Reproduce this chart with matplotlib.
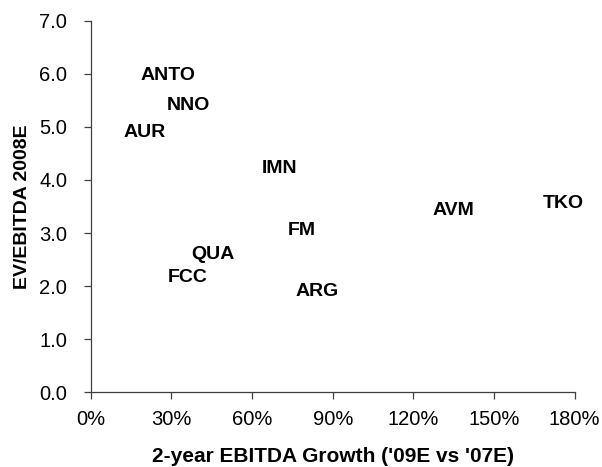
import matplotlib.pyplot as plt
from matplotlib.ticker import PercentFormatter

plt.rcParams['font.family'] = ['Liberation Sans', 'DejaVu Sans']

# label positions: EBITDA growth (fraction) vs EV/EBITDA
names = ['ANTO', 'NNO', 'AUR', 'IMN', 'FM', 'ARG', 'AVM', 'TKO', 'QUA', 'FCC']
growth = [0.286, 0.363, 0.201, 0.704, 0.783, 0.842, 1.348, 1.757, 0.456, 0.361]
ev_ebitda = [5.96, 5.41, 4.89, 4.22, 3.04, 1.89, 3.43, 3.56, 2.60, 2.17]

x_ticks = [0, 0.3, 0.6, 0.9, 1.2, 1.5, 1.8]
y_ticks = [0, 1, 2, 3, 4, 5, 6, 7]

fig = plt.figure(figsize=(6.02, 4.67), dpi=100)
ax = fig.add_axes([0.1507, 0.16, 0.804, 0.7957])

for name, gx, ev in zip(names, growth, ev_ebitda):
    ax.text(gx, ev, name, ha='center', va='center', fontsize=14,
            fontweight='bold', clip_on=False)

ax.set_xlim(0, 1.8)
ax.set_ylim(0, 7)
ax.set_xticks(x_ticks)
ax.set_yticks(y_ticks)
ax.xaxis.set_major_formatter(PercentFormatter(1.0, decimals=0))
ax.yaxis.set_major_formatter(plt.FormatStrFormatter('%.1f'))

for side in ['top', 'right']:
    ax.spines[side].set_visible(False)
for side in ['left', 'bottom']:
    ax.spines[side].set_color('#404040')
    ax.spines[side].set_linewidth(0.9)

ax.tick_params(axis='both', direction='out', length=5, width=0.9,
               color='#404040', labelsize=14.5)
ax.tick_params(axis='x', pad=8)
ax.tick_params(axis='y', pad=12)

ax.set_xlabel("2-year EBITDA Growth ('09E vs '07E)", fontsize=15, fontweight='bold')
ax.set_ylabel('EV/EBITDA 2008E', fontsize=14, fontweight='bold')
ax.xaxis.label.set_va('center')
ax.yaxis.label.set_va('center')
ax.xaxis.set_label_coords(0.5, -0.174)
ax.yaxis.set_label_coords(-0.14, 0.5)

fig.savefig('out.png', dpi=100)
